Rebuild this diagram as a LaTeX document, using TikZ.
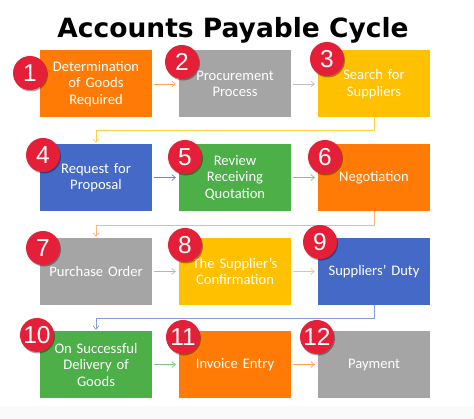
\documentclass[tikz,border=0pt]{standalone}
\usepackage{fontspec}
\setmainfont{Carlito}
\newfontfamily\titlefont{DejaVu Sans}
\newfontfamily\numfont{Liberation Sans}
\usetikzlibrary{arrows.meta,shadows}
\definecolor{cOrange}{HTML}{FF7B05}
\definecolor{cGray}{HTML}{A5A5A5}
\definecolor{cYellow}{HTML}{FFC000}
\definecolor{cBlue}{HTML}{4469C6}
\definecolor{cGreen}{HTML}{4CAF48}
\definecolor{cRed}{HTML}{E51F37}
\tikzset{
  stepbox/.style={minimum width=112pt, minimum height=67pt, inner sep=2pt,
    text=white, align=center, font=\fontsize{14.6}{16.5}\selectfont, text width=106pt},
  badge/.style={circle, fill=cRed, minimum size=34pt, inner sep=0pt, text=white,
    font=\numfont\fontsize{24.5}{24.5}\selectfont,
    drop shadow={shadow xshift=1pt, shadow yshift=-1.5pt, opacity=0.35, fill=black}},
  link/.style={line width=0.7pt, -{Straight Barb[length=3.5pt,width=6pt]}, shorten <=1.5pt, shorten >=3pt},
  turn/.style={line width=0.7pt, -{Straight Barb[length=3.5pt,width=6pt]}, shorten >=1pt}
}
\begin{document}
\begin{tikzpicture}[x=1pt,y=1pt]
\useasboundingbox (0,0) rectangle (474,419);
\fill[white] (0,0) rectangle (474,419);
\fill[black!2] (0,0) rectangle (474,13);
\node[font=\titlefont\bfseries\fontsize{26.5}{30}\selectfont, anchor=base] (title) at (233,381) {Accounts Payable Cycle};

% boxes
\node[stepbox, fill=cOrange] (b1) at (96,335) {Determination\\of Goods\\Required};
\node[stepbox, fill=cGray] (b2) at (235,335) {Procurement\\Process};
\node[stepbox, fill=cYellow] (b3) at (374,335) {Search for\\Suppliers};
\node[stepbox, fill=cBlue] (b4) at (96,241.5) {Request for\\Proposal};
\node[stepbox, fill=cGreen] (b5) at (235,241.5) {Review\\Receiving\\Quotation};
\node[stepbox, fill=cOrange] (b6) at (374,241.5) {Negotiation};
\node[stepbox, fill=cGray] (b7) at (96,147.5) {Purchase Order};
\node[stepbox, fill=cYellow] (b8) at (235,147.5) {The Supplier’s\\Confirmation};
\node[stepbox, fill=cBlue] (b9) at (374,147.5) {Suppliers’ Duty};
\node[stepbox, fill=cGreen] (b10) at (96,54.5) {On Successful\\Delivery of\\Goods};
\node[stepbox, fill=cOrange] (b11) at (235,54.5) {Invoice Entry};
\node[stepbox, fill=cGray] (b12) at (374,54.5) {Payment};

% arrows within rows
\draw[link, cOrange!70] (b1) -- (b2);
\draw[link, cGray!70] (b2) -- (b3);
\draw[link, cBlue!80] (b4) -- (b5);
\draw[link, cGreen!70] (b5) -- (b6);
\draw[link, cGray!80] (b7) -- (b8);
\draw[link, cYellow!80] (b8) -- (b9);
\draw[link, cGreen!70] (b10) -- (b11);
\draw[link, cOrange!70] (b11) -- (b12);

% row-to-row connectors
\draw[turn, cYellow!75] (b3.south) -- ++(0,-13pt) -| (b4.north);
\draw[turn, cOrange!55] (b6.south) -- ++(0,-14pt) -| (b7.north);
\draw[turn, cBlue!65] (b9.south) -- ++(0,-13pt) -| (b10.north);

% number badges
\node[badge] (n1) at (30,346) {1};
\node[badge] (n2) at (182,357) {2};
\node[badge] (n3) at (327,360) {3};
\node[badge] (n4) at (43,264) {4};
\node[badge] (n5) at (185,262) {5};
\node[badge] (n6) at (325,262) {6};
\node[badge] (n7) at (43,171) {7};
\node[badge] (n8) at (185,174) {8};
\node[badge] (n9) at (320,177) {9};
\node[badge] (n10) at (37,84) {10};
\node[badge] (n11) at (183,82) {11};
\node[badge] (n12) at (317,82) {12};
\end{tikzpicture}
\end{document}
